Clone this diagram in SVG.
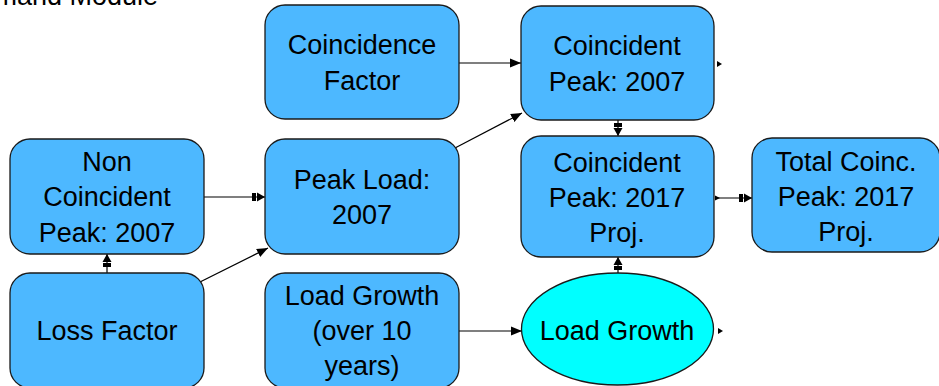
<svg xmlns="http://www.w3.org/2000/svg" width="939" height="386" viewBox="0 0 939 386">
<defs>
<style>
.box{fill:#4DB8FF;stroke:#1a1a1a;stroke-width:1.3}
.ell{fill:#00FFFF;stroke:#1a1a1a;stroke-width:1.3}
.t{font-family:"Liberation Sans",Arial,sans-serif;font-size:27px;fill:#000;text-anchor:middle}
.c{stroke:#000;stroke-width:1.2;fill:none}
</style>
<marker id="tri" markerWidth="12" markerHeight="10" refX="11" refY="5" orient="auto" markerUnits="userSpaceOnUse"><path d="M0,0.5 L11,5 L0,9.5 z" fill="#000"/></marker>
<marker id="blk" markerWidth="14" markerHeight="10" refX="13" refY="5" orient="auto" markerUnits="userSpaceOnUse"><path d="M0,1 H4 V9 H0 z M5,0.5 L13,5 L5,9.5 z" fill="#000"/></marker>
<marker id="sm" markerWidth="6" markerHeight="6" refX="1" refY="3" orient="auto" markerUnits="userSpaceOnUse"><path d="M0,0.5 L5,3 L0,5.5 z" fill="#000"/></marker>
</defs>
<rect width="939" height="386" fill="#fff"/>
<text x="-40" y="5" style="font-family:'Liberation Sans',Arial,sans-serif;font-size:27px;fill:#000">Demand Module</text>

<g id="connectors">
<line class="c" x1="459" y1="63" x2="521" y2="63" marker-end="url(#tri)"/>
<line class="c" x1="455" y1="148" x2="522" y2="113" marker-end="url(#tri)"/>
<line class="c" x1="204" y1="197" x2="265" y2="197" marker-end="url(#blk)"/>
<line class="c" x1="200" y1="282" x2="268" y2="248" marker-end="url(#tri)"/>
<line class="c" x1="107" y1="273" x2="107" y2="254" marker-end="url(#blk)"/>
<line class="c" x1="459" y1="331" x2="522" y2="331" marker-end="url(#tri)"/>
<line class="c" x1="618" y1="273" x2="618" y2="257" marker-end="url(#blk)"/>
<line class="c" x1="618" y1="120" x2="618" y2="136" marker-end="url(#blk)"/>
<line class="c" x1="716" y1="198" x2="752" y2="198" marker-start="url(#sm)" marker-end="url(#blk)"/>
<path d="M717,61 L722,64 L717,67 z" fill="#000"/>
<path d="M718,328 L723,331 L718,334 z" fill="#000"/>
</g>

<g id="coincidence-factor">
<rect class="box" x="265" y="5" width="194" height="114" rx="20"/>
<text class="t" x="362" y="54">Coincidence</text>
<text class="t" x="362" y="90">Factor</text>
</g>
<g id="coincident-peak-2007">
<rect class="box" x="521" y="6" width="193" height="114" rx="20"/>
<text class="t" x="617" y="55">Coincident</text>
<text class="t" x="617" y="91">Peak: 2007</text>
</g>
<g id="non-coincident-peak-2007">
<rect class="box" x="10" y="139" width="194" height="115" rx="20"/>
<text class="t" x="107" y="171">Non</text>
<text class="t" x="107" y="206">Coincident</text>
<text class="t" x="107" y="242">Peak: 2007</text>
</g>
<g id="peak-load-2007">
<rect class="box" x="265" y="139" width="194" height="115" rx="20"/>
<text class="t" x="362" y="189">Peak Load:</text>
<text class="t" x="362" y="224">2007</text>
</g>
<g id="coincident-peak-2017">
<rect class="box" x="521" y="136" width="193" height="121" rx="20"/>
<text class="t" x="617" y="172">Coincident</text>
<text class="t" x="617" y="207">Peak: 2017</text>
<text class="t" x="617" y="242">Proj.</text>
</g>
<g id="total-coinc-peak-2017">
<rect class="box" x="752" y="138" width="188" height="114" rx="20"/>
<text class="t" x="846" y="171">Total Coinc.</text>
<text class="t" x="846" y="206">Peak: 2017</text>
<text class="t" x="846" y="241">Proj.</text>
</g>
<g id="loss-factor">
<rect class="box" x="10" y="273" width="194" height="115" rx="20"/>
<text class="t" x="107" y="340">Loss Factor</text>
</g>
<g id="load-growth-over-10-years">
<rect class="box" x="265" y="273" width="194" height="115" rx="20"/>
<text class="t" x="362" y="305">Load Growth</text>
<text class="t" x="362" y="340">(over 10</text>
<text class="t" x="362" y="375">years)</text>
</g>
<g id="load-growth">
<ellipse class="ell" cx="617.5" cy="329" rx="96" ry="56"/>
<text class="t" x="617" y="340">Load Growth</text>
</g>
</svg>
